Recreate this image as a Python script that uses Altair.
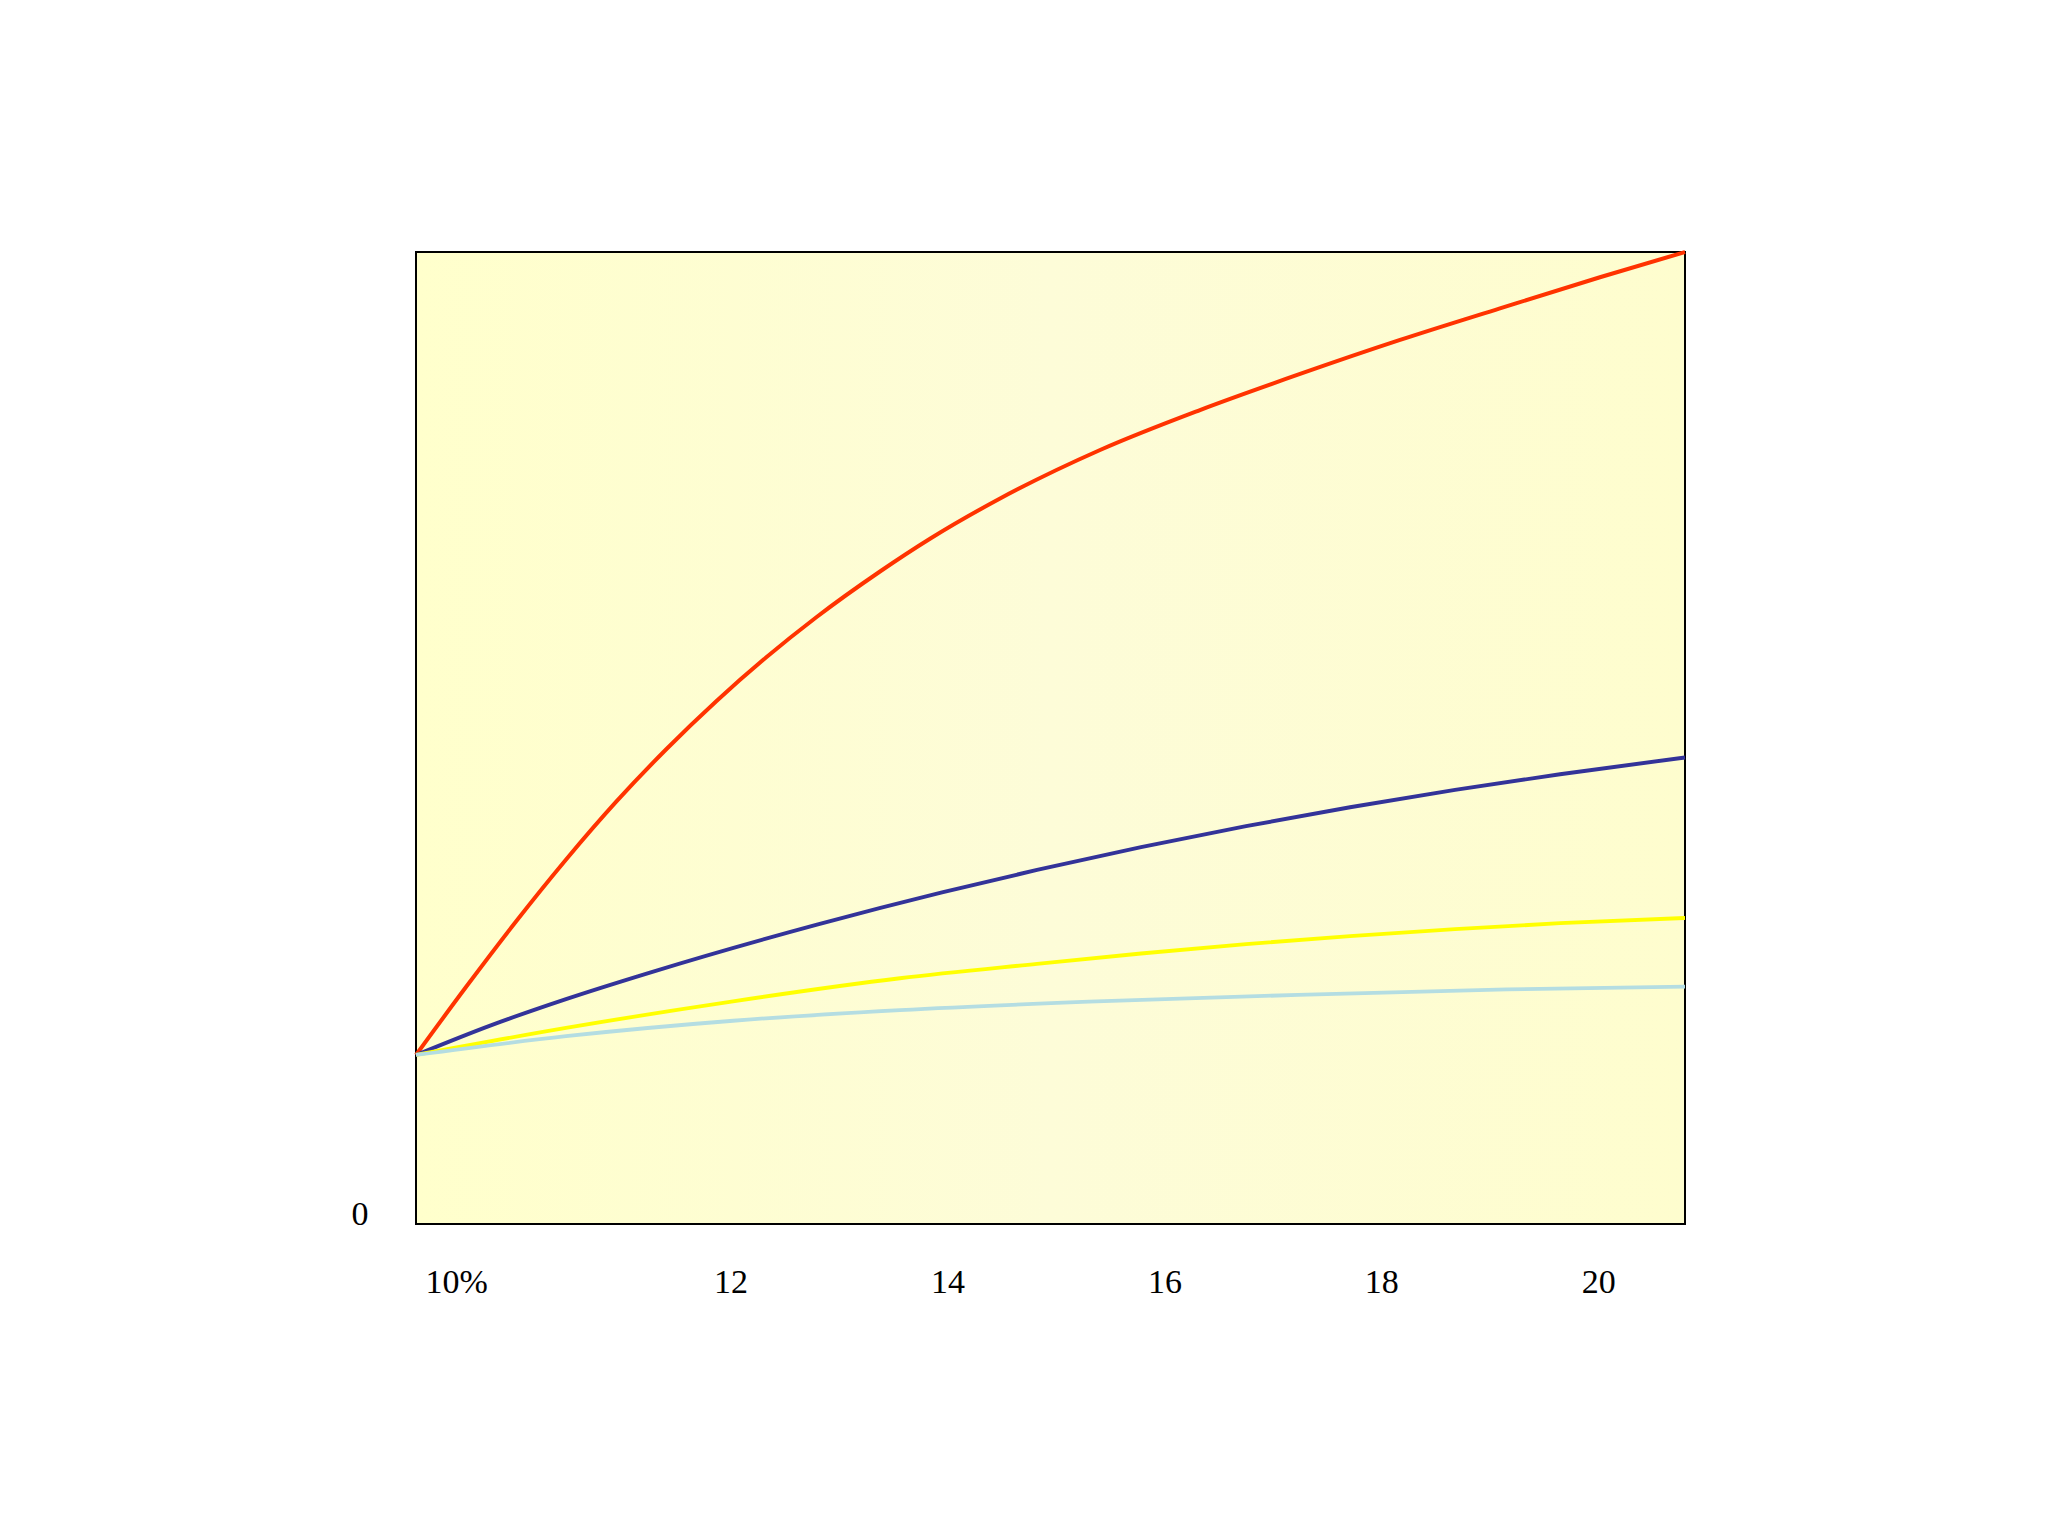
import altair as alt
import pandas as pd

# ---- data ----
x_domain = [9.1, 20.8]
y_domain = [0, 100]

red_x = [9.1, 9.561, 10.022, 10.484, 10.944, 11.405, 11.866, 12.327, 12.788, 13.378, 13.839, 14.485, 15.407, 16.328, 17.251, 18.173, 19.094, 20.016, 20.8]
red_y = [17.39, 24.38, 31.12, 37.5, 43.42, 48.82, 53.76, 58.28, 62.4, 67.13, 70.5, 74.64, 79.63, 83.74, 87.45, 90.95, 94.2, 97.4, 100.0]

blue_x = [9.1, 9.79, 10.483, 11.257, 12.797, 13.95, 14.826, 15.785, 16.753, 17.712, 18.68, 19.648, 20.8]
blue_y = [17.39, 20.44, 23.14, 25.87, 30.8, 34.12, 36.43, 38.77, 40.93, 42.88, 44.66, 46.27, 48.0]

yellow_x = [9.1, 10.483, 12.023, 13.562, 14.826, 15.785, 16.753, 17.712, 18.68, 19.648, 20.8]
yellow_y = [17.39, 20.17, 22.91, 25.28, 26.76, 27.83, 28.79, 29.62, 30.34, 30.95, 31.49]

lblue_x = [9.1, 10.483, 12.023, 13.562, 15.305, 17.232, 19.159, 20.8]
lblue_y = [17.39, 19.32, 20.91, 22.0, 22.87, 23.58, 24.13, 24.42]

series_names = ["red", "blue", "yellow", "lightblue"]
series_colors = ["#FF3300", "#333399", "#FFFF00", "#B4DDE2"]
series_widths = [4, 3.8, 4.5, 4.5]

tick_values = [9.47, 12, 14, 16, 18, 20]
tick_labels = ["10%", "12", "14", "16", "18", "20"]

# ---- tables ----
rows = []
for name, xs, ys in zip(series_names,
                        [red_x, blue_x, yellow_x, lblue_x],
                        [red_y, blue_y, yellow_y, lblue_y]):
    for i, (a, b) in enumerate(zip(xs, ys)):
        rows.append({"series": name, "x": a, "y": b, "order": i})
df = pd.DataFrame(rows)

bg = pd.DataFrame({"x": [x_domain[0]], "x2": [x_domain[1]],
                   "y": [y_domain[0]], "y2": [y_domain[1]]})

label_map = "{" + ",".join(f"'{v}':'{t}'" for v, t in zip(tick_values, tick_labels)) + "}"

FONT = "Liberation Serif, Times New Roman, serif"

xscale = alt.Scale(domain=x_domain, nice=False, zero=False)
yscale = alt.Scale(domain=y_domain, nice=False, zero=False)

xaxis = alt.Axis(values=tick_values, labelExpr=label_map + "[datum.value + '']",
                 domain=False, ticks=False, grid=False, title=None,
                 labelFont=FONT, labelFontSize=34, labelColor="black",
                 labelPadding=68, labelBaseline="alphabetic", labelAlign="center",
                 labelFlush=False, labelOverlap=False)
yaxis = alt.Axis(values=[0], domain=False, ticks=False, grid=False, title=None,
                 labelFont=FONT, labelFontSize=34, labelColor="black",
                 labelPadding=48, labelBaseline="alphabetic")

gradient = alt.Gradient(
    gradient="linear",
    stops=[alt.GradientStop(color="#FFFFCC", offset=0),
           alt.GradientStop(color="#FDFCD8", offset=0.5),
           alt.GradientStop(color="#FEFDCE", offset=1)],
    x1=0, x2=1, y1=0, y2=0)

background = alt.Chart(bg).mark_rect(fill=gradient, stroke="black", strokeWidth=2).encode(
    x=alt.X("x:Q", scale=xscale, axis=xaxis),
    x2="x2:Q",
    y=alt.Y("y:Q", scale=yscale, axis=yaxis),
    y2="y2:Q",
)

lines = alt.Chart(df).mark_line(interpolate="monotone").encode(
    x=alt.X("x:Q", scale=xscale),
    y=alt.Y("y:Q", scale=yscale),
    color=alt.Color("series:N", scale=alt.Scale(domain=series_names, range=series_colors), legend=None),
    strokeWidth=alt.StrokeWidth("series:N", scale=alt.Scale(domain=series_names, range=series_widths), legend=None),
    order="order:Q",
)

chart = alt.layer(background, lines).properties(
    width=1269, height=972,
    autosize=alt.AutoSizeParams(type="none"),
    padding={"left": 408, "top": 244, "right": 20, "bottom": 100},
    background="white",
).configure_view(stroke=None)

chart.save("out.html", embed_options={"renderer": "svg", "actions": False})
